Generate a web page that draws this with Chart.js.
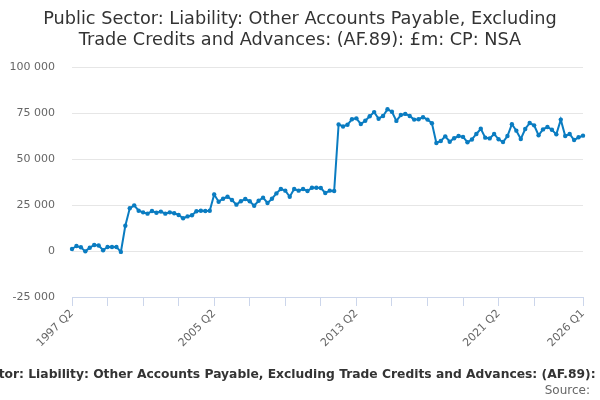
<!DOCTYPE html>
<html>
<head>
<meta charset="utf-8">
<script src="https://cdn.jsdelivr.net/npm/chart.js@4.4.1/dist/chart.umd.min.js"></script>
<style>
  html, body { margin: 0; padding: 0; background: #fff; }
  #wrap { width: 600px; height: 400px; position: relative; }
</style>
</head>
<body>
<div id="wrap"><canvas id="c" width="600" height="400"></canvas></div>
<script>
const titleLines = [
  'Public Sector: Liability: Other Accounts Payable, Excluding',
  'Trade Credits and Advances: (AF.89): £m: CP: NSA'
];
const captionText = 'Public Sector: Liability: Other Accounts Payable, Excluding Trade Credits and Advances: (AF.89): £m: CP: NSA';
const sourceText = 'Source:';

const quarters = [
  '1997 Q2','1997 Q3','1997 Q4',
  '1998 Q1','1998 Q2','1998 Q3','1998 Q4',
  '1999 Q1','1999 Q2','1999 Q3','1999 Q4',
  '2000 Q1','2000 Q2','2000 Q3','2000 Q4',
  '2001 Q1','2001 Q2','2001 Q3','2001 Q4',
  '2002 Q1','2002 Q2','2002 Q3','2002 Q4',
  '2003 Q1','2003 Q2','2003 Q3','2003 Q4',
  '2004 Q1','2004 Q2','2004 Q3','2004 Q4',
  '2005 Q1','2005 Q2','2005 Q3','2005 Q4',
  '2006 Q1','2006 Q2','2006 Q3','2006 Q4',
  '2007 Q1','2007 Q2','2007 Q3','2007 Q4',
  '2008 Q1','2008 Q2','2008 Q3','2008 Q4',
  '2009 Q1','2009 Q2','2009 Q3','2009 Q4',
  '2010 Q1','2010 Q2','2010 Q3','2010 Q4',
  '2011 Q1','2011 Q2','2011 Q3','2011 Q4',
  '2012 Q1','2012 Q2','2012 Q3','2012 Q4',
  '2013 Q1','2013 Q2','2013 Q3','2013 Q4',
  '2014 Q1','2014 Q2','2014 Q3','2014 Q4',
  '2015 Q1','2015 Q2','2015 Q3','2015 Q4',
  '2016 Q1','2016 Q2','2016 Q3','2016 Q4',
  '2017 Q1','2017 Q2','2017 Q3','2017 Q4',
  '2018 Q1','2018 Q2','2018 Q3','2018 Q4',
  '2019 Q1','2019 Q2','2019 Q3','2019 Q4',
  '2020 Q1','2020 Q2','2020 Q3','2020 Q4',
  '2021 Q1','2021 Q2','2021 Q3','2021 Q4',
  '2022 Q1','2022 Q2','2022 Q3','2022 Q4',
  '2023 Q1','2023 Q2','2023 Q3','2023 Q4',
  '2024 Q1','2024 Q2','2024 Q3','2024 Q4',
  '2025 Q1','2025 Q2','2025 Q3','2025 Q4',
  '2026 Q1'
];

const values = [
  1100, 2700, 2000,
  -200, 1800, 3300, 3000,
  400, 2200, 2200, 2200,
  -500, 13700, 23200, 24800,
  21900, 21000, 20300, 21700,
  20800, 21400, 20300, 21000,
  20500, 19600, 17800, 18800,
  19400, 21600, 21900, 21700,
  21900, 30700, 26800, 28400,
  29500, 27700, 25200, 27000,
  28300, 27000, 24600, 27300,
  29000, 26100, 28400, 31300,
  33700, 32800, 29500, 33700,
  32800, 33700, 32600, 34400,
  34400, 34200, 31500, 32800,
  32600, 68800, 67700, 68600,
  71600, 72100, 69000, 70800,
  73200, 75500, 71900, 73400,
  77000, 75700, 70700, 73900,
  74500, 73400, 71400, 71600,
  72700, 71400, 69400, 58700,
  59800, 62300, 59400, 61300,
  62500, 62000, 59100, 60600,
  63600, 66400, 61600, 61200,
  63600, 60700, 59200, 62500,
  68900, 65400, 60900, 66300,
  69600, 68300, 62900, 66100,
  67400, 65900, 63400, 71400,
  62500, 63600, 60300, 61800,
  62700
];

const tickLabels = ['1997 Q2', '2005 Q2', '2013 Q2', '2021 Q2', '2026 Q1'];
const tickMarks = ['1997 Q2','1999 Q2','2001 Q2','2003 Q2','2005 Q2','2007 Q2','2009 Q2','2011 Q2',
  '2013 Q2','2015 Q2','2017 Q2','2019 Q2','2021 Q2','2023 Q2','2026 Q1'];

const yMin = -25000, yMax = 100000, yStep = 25000;

function fmt(v) {
  const s = String(Math.abs(v)).replace(/\B(?=(\d{3})+(?!\d))/g, ' ');
  return (v < 0 ? '-' : '') + s;
}

const textPlugin = {
  id: 'texts',
  afterDraw(chart) {
    const ctx = chart.ctx;
    ctx.save();
    ctx.fillStyle = '#333333';
    ctx.textAlign = 'center';
    ctx.textBaseline = 'alphabetic';
    ctx.font = '17.7px "DejaVu Sans"';
    ctx.fillText(titleLines[0], 300, 24);
    ctx.fillText(titleLines[1], 300, 45);
    ctx.font = 'bold 12.3px "DejaVu Sans"';
    ctx.fillText(captionText, 307, 378);
    ctx.font = '12px "DejaVu Sans"';
    ctx.fillStyle = '#666666';
    ctx.textAlign = 'right';
    ctx.fillText(sourceText, 590, 394);
    ctx.restore();
  }
};

const lineColor = '#0a7cc1';

new Chart(document.getElementById('c'), {
  type: 'line',
  data: {
    labels: quarters,
    datasets: [{
      data: values,
      borderColor: lineColor,
      backgroundColor: lineColor,
      borderWidth: 2,
      pointRadius: 2.2,
      pointBorderWidth: 0,
      pointBackgroundColor: lineColor,
      tension: 0,
      fill: false
    }]
  },
  options: {
    responsive: false,
    animation: false,
    devicePixelRatio: 1,
    layout: { padding: { top: 67, left: 0, right: 17, bottom: 43 } },
    plugins: {
      legend: { display: false },
      title: { display: false },
      tooltip: { enabled: false }
    },
    scales: {
      x: {
        type: 'category',
        offset: false,
        afterFit(s) { s.height = 60; },
        border: { display: true, color: '#ccd6eb', width: 1 },
        grid: {
          drawOnChartArea: false,
          drawTicks: true,
          tickLength: 9,
          color: '#ccd6eb',
          lineWidth: 1
        },
        ticks: {
          autoSkip: false,
          minRotation: 45,
          maxRotation: 45,
          padding: 1,
          color: '#666666',
          font: { family: 'DejaVu Sans', size: 11 },
          callback(val, idx) {
            const lab = quarters[idx];
            if (tickLabels.includes(lab)) return lab;
            if (tickMarks.includes(lab)) return '';
            return null;
          }
        }
      },
      y: {
        min: yMin,
        max: yMax,
        afterFit(s) { s.width = 72; },
        border: { display: false },
        grid: {
          drawTicks: false,
          color: '#e6e6e6',
          lineWidth: 1
        },
        ticks: {
          stepSize: yStep,
          padding: 17,
          color: '#666666',
          font: { family: 'DejaVu Sans', size: 11 },
          callback(v) { return fmt(v); }
        }
      }
    }
  },
  plugins: [textPlugin]
});
</script>
</body>
</html>
